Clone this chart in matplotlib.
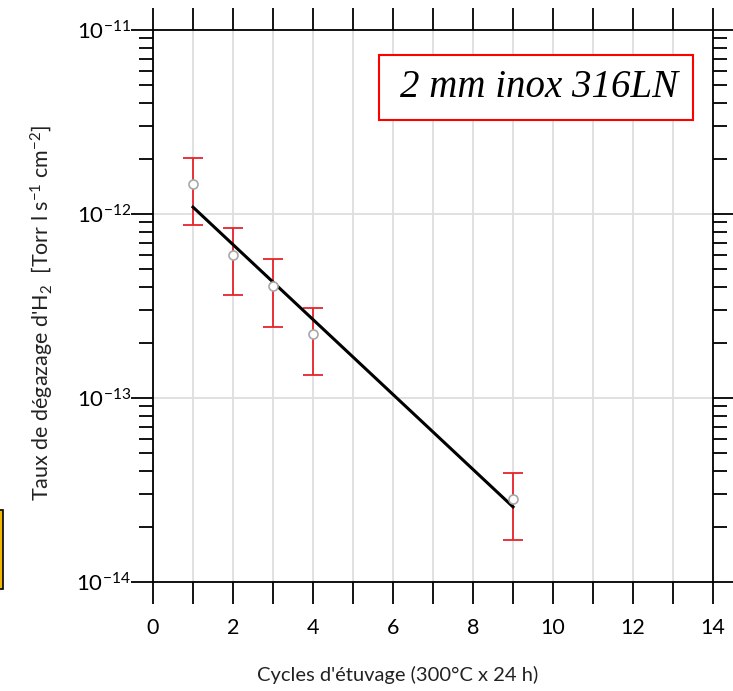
import numpy as np
import matplotlib.pyplot as plt
from matplotlib.patches import Rectangle
from matplotlib.ticker import FixedLocator, FuncFormatter, NullFormatter

plt.rcParams['font.family'] = ['Lato', 'DejaVu Sans']
plt.rcParams['mathtext.fontset'] = 'custom'
plt.rcParams['mathtext.rm'] = 'Lato'
plt.rcParams['mathtext.it'] = 'Lato:italic'

# data
cycles = [1, 2, 3, 4, 9]
rate = [1.46e-12, 5.98e-13, 4.06e-13, 2.23e-13, 2.82e-14]
err_hi = [2.01e-12, 8.4e-13, 5.69e-13, 3.08e-13, 3.9e-14]
err_lo = [8.7e-13, 3.63e-13, 2.43e-13, 1.33e-13, 1.69e-14]
fit_x = [1, 9]
fit_y = [1.09e-12, 2.56e-14]
x_ticks = [0, 2, 4, 6, 8, 10, 12, 14]
y_decades = [1e-14, 1e-13, 1e-12, 1e-11]

W, H = 733, 691
fig = plt.figure(figsize=(W / 100, H / 100), dpi=100)
ax = fig.add_axes([153 / W, 1 - 582 / H, 560 / W, 552 / H])

rate = np.array(rate)
yerr = [rate - np.array(err_lo), np.array(err_hi) - rate]

ax.plot(fit_x, fit_y, color='black', lw=2.2, zorder=3)
ax.errorbar(cycles, rate, yerr=yerr, fmt='none', ecolor='#e8242a', elinewidth=1.3,
            capsize=7.5, capthick=1.3, zorder=2)
ax.plot(cycles, rate, 'o', ms=6.5, mfc='white', mec='#a8a8a8', mew=1.2, zorder=4)

ax.set_yscale('log')
ax.set_xlim(0, 14)
ax.set_ylim(1e-14, 1e-11)

ax.xaxis.set_major_locator(FixedLocator(x_ticks))
ax.xaxis.set_minor_locator(FixedLocator(range(15)))
ax.yaxis.set_major_locator(FixedLocator(y_decades))
minor_y = [m * d for d in y_decades[:-1] for m in range(2, 10)]
ax.yaxis.set_minor_locator(FixedLocator(minor_y))
ax.yaxis.set_minor_formatter(NullFormatter())
ax.yaxis.set_major_formatter(FuncFormatter(lambda v, p: r'$\mathregular{10^{%d}}$' % round(np.log10(v))))

ax.grid(True, which='both', axis='x', color='#dedede', lw=1.3)
ax.grid(True, which='major', axis='y', color='#dedede', lw=1.3)
ax.set_axisbelow(True)

for s in ax.spines.values():
    s.set_linewidth(1.3)

ax.tick_params(axis='x', which='both', direction='out', length=16, width=1.3,
               top=True, labelsize=15.5, pad=10)
ax.tick_params(axis='y', which='major', direction='out', length=16, width=1.3,
               right=True, labelsize=16, pad=0)
ax.tick_params(axis='y', which='minor', direction='out', length=10, width=1.3,
               right=True)

ax.set_xlabel("Cycles d'étuvage (300°C x 24 h)", fontsize=14.5, color='#222222')
ax.xaxis.set_label_coords(0.4375, -0.152)
ax.set_ylabel(r"Taux de dégazage d'H$_2$  [Torr l s$^{-1}$ cm$^{-2}$]", fontsize=15.5,
              color='#222222')
ax.yaxis.set_label_coords(-0.174, 0.488)

# annotation box
ax.add_patch(Rectangle((0.4036, 0.837), 0.5604, 0.1177, transform=ax.transAxes,
                       fill=True, facecolor='white', edgecolor='red', lw=1.5, zorder=5))
ax.text(0.689, 0.895, '2 mm inox 316LN', transform=ax.transAxes, ha='center', va='center',
        fontsize=28, style='italic', family='Liberation Serif', zorder=6)

# yellow bracket at the left edge
fig.patches.append(Rectangle((-3 / W, 1 - 589 / H), 6 / W, 79 / H, transform=fig.transFigure,
                             facecolor='#f5b800', edgecolor='black', lw=1.2))

fig.savefig('out.png', dpi=100)
